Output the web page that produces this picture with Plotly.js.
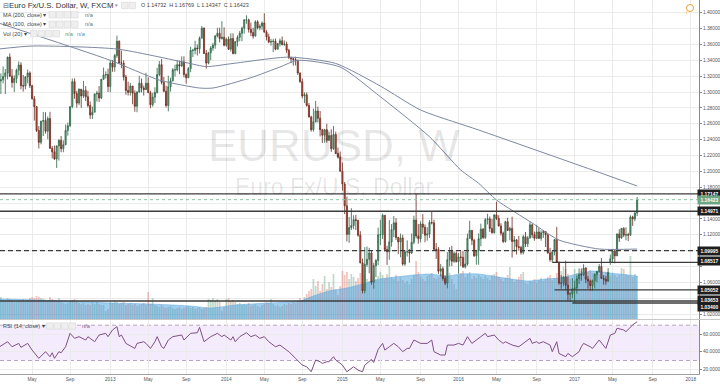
<!DOCTYPE html>
<html><head><meta charset="utf-8">
<script src="https://cdn.plot.ly/plotly-3.0.1.min.js"></script>
<style>html,body{margin:0;padding:0;background:#fff;}#chart{width:720px;height:384px;}</style>
</head><body><div id="chart"></div>
<script>
// ---------- DATA (weekly EUR/USD, FXCM) ----------
const dates = [
'2012-01-23','2012-01-30','2012-02-06','2012-02-13','2012-02-20','2012-02-27','2012-03-05','2012-03-12','2012-03-19','2012-03-26','2012-04-02','2012-04-09','2012-04-16','2012-04-23','2012-04-30','2012-05-07','2012-05-14','2012-05-21','2012-05-28','2012-06-04','2012-06-11','2012-06-18','2012-06-25','2012-07-02','2012-07-09','2012-07-16','2012-07-23','2012-07-30','2012-08-06','2012-08-13','2012-08-20','2012-08-27','2012-09-03','2012-09-10','2012-09-17','2012-09-24','2012-10-01','2012-10-08','2012-10-15','2012-10-22','2012-10-29','2012-11-05','2012-11-12','2012-11-19','2012-11-26','2012-12-03','2012-12-10','2012-12-17','2012-12-24','2012-12-31',
'2013-01-07','2013-01-14','2013-01-21','2013-01-28','2013-02-04','2013-02-11','2013-02-18','2013-02-25','2013-03-04','2013-03-11','2013-03-18','2013-03-25','2013-04-01','2013-04-08','2013-04-15','2013-04-22','2013-04-29','2013-05-06','2013-05-13','2013-05-20','2013-05-27','2013-06-03','2013-06-10','2013-06-17','2013-06-24','2013-07-01','2013-07-08','2013-07-15','2013-07-22','2013-07-29','2013-08-05','2013-08-12','2013-08-19','2013-08-26','2013-09-02','2013-09-09','2013-09-16','2013-09-23','2013-09-30','2013-10-07','2013-10-14','2013-10-21','2013-10-28','2013-11-04','2013-11-11','2013-11-18','2013-11-25','2013-12-02','2013-12-09','2013-12-16','2013-12-23','2013-12-30',
'2014-01-06','2014-01-13','2014-01-20','2014-01-27','2014-02-03','2014-02-10','2014-02-17','2014-02-24','2014-03-03','2014-03-10','2014-03-17','2014-03-24','2014-03-31','2014-04-07','2014-04-14','2014-04-21','2014-04-28','2014-05-05','2014-05-12','2014-05-19','2014-05-26','2014-06-02','2014-06-09','2014-06-16','2014-06-23','2014-06-30','2014-07-07','2014-07-14','2014-07-21','2014-07-28','2014-08-04','2014-08-11','2014-08-18','2014-08-25','2014-09-01','2014-09-08','2014-09-15','2014-09-22','2014-09-29','2014-10-06','2014-10-13','2014-10-20','2014-10-27','2014-11-03','2014-11-10','2014-11-17','2014-11-24','2014-12-01','2014-12-08','2014-12-15','2014-12-22','2014-12-29',
'2015-01-05','2015-01-12','2015-01-19','2015-01-26','2015-02-02','2015-02-09','2015-02-16','2015-02-23','2015-03-02','2015-03-09','2015-03-16','2015-03-23','2015-03-30','2015-04-06','2015-04-13','2015-04-20','2015-04-27','2015-05-04','2015-05-11','2015-05-18','2015-05-25','2015-06-01','2015-06-08','2015-06-15','2015-06-22','2015-06-29','2015-07-06','2015-07-13','2015-07-20','2015-07-27','2015-08-03','2015-08-10','2015-08-17','2015-08-24','2015-08-31','2015-09-07','2015-09-14','2015-09-21','2015-09-28','2015-10-05','2015-10-12','2015-10-19','2015-10-26','2015-11-02','2015-11-09','2015-11-16','2015-11-23','2015-11-30','2015-12-07','2015-12-14','2015-12-21','2015-12-28',
'2016-01-04','2016-01-11','2016-01-18','2016-01-25','2016-02-01','2016-02-08','2016-02-15','2016-02-22','2016-02-29','2016-03-07','2016-03-14','2016-03-21','2016-03-28','2016-04-04','2016-04-11','2016-04-18','2016-04-25','2016-05-02','2016-05-09','2016-05-16','2016-05-23','2016-05-30','2016-06-06','2016-06-13','2016-06-20','2016-06-27','2016-07-04','2016-07-11','2016-07-18','2016-07-25','2016-08-01','2016-08-08','2016-08-15','2016-08-22','2016-08-29','2016-09-05','2016-09-12','2016-09-19','2016-09-26','2016-10-03','2016-10-10','2016-10-17','2016-10-24','2016-10-31','2016-11-07','2016-11-14','2016-11-21','2016-11-28','2016-12-05','2016-12-12','2016-12-19','2016-12-26',
'2017-01-02','2017-01-09','2017-01-16','2017-01-23','2017-01-30','2017-02-06','2017-02-13','2017-02-20','2017-02-27','2017-03-06','2017-03-13','2017-03-20','2017-03-27','2017-04-03','2017-04-10','2017-04-17','2017-04-24','2017-05-01','2017-05-08','2017-05-15','2017-05-22','2017-05-29','2017-06-05','2017-06-12','2017-06-19','2017-06-26','2017-07-03','2017-07-10','2017-07-17'];

const open = [
1.2915,1.3140,1.3155,1.3195,1.3240,1.3440,1.3200,1.3120,1.3170,1.3275,1.3340,1.3080,1.3075,1.3190,1.3240,1.3080,1.2915,1.2815,1.2515,1.2365,1.2630,1.2640,1.2505,1.2665,1.2290,1.2245,1.2155,1.2320,1.2390,1.2285,1.2335,1.2515,1.2575,1.2815,1.3130,1.2980,1.2860,1.3035,1.2950,1.3020,1.2940,1.2830,1.2710,1.2745,1.2975,1.2985,1.2925,1.3160,1.3215,1.3220,
1.3070,1.3365,1.3315,1.3460,1.3640,1.3365,1.3365,1.3190,1.3020,1.2995,1.3075,1.2985,1.2820,1.3000,1.3110,1.3050,1.3030,1.3110,1.2990,1.2840,1.2935,1.2995,1.3220,1.3345,1.3120,1.3010,1.2830,1.3065,1.3140,1.3280,1.3280,1.3345,1.3330,1.3380,1.3220,1.3180,1.3295,1.3525,1.3525,1.3555,1.3545,1.3680,1.3805,1.3485,1.3365,1.3495,1.3555,1.3590,1.3705,1.3740,1.3675,1.3690,
1.3590,1.3665,1.3540,1.3675,1.3485,1.3635,1.3690,1.3740,1.3805,1.3910,1.3910,1.3790,1.3750,1.3705,1.3885,1.3810,1.3830,1.3870,1.3755,1.3695,1.3630,1.3635,1.3640,1.3540,1.3610,1.3645,1.3595,1.3605,1.3525,1.3430,1.3420,1.3410,1.3400,1.3240,1.3130,1.2950,1.2965,1.2830,1.2685,1.2525,1.2625,1.2760,1.2670,1.2525,1.2455,1.2525,1.2390,1.2450,1.2285,1.2465,1.2225,1.2180,
1.2000,1.1840,1.1565,1.1205,1.1290,1.1315,1.1390,1.1380,1.1195,1.0845,1.0495,1.0825,1.0890,1.0970,1.0600,1.0810,1.0875,1.1200,1.1200,1.1445,1.1015,1.0985,1.1110,1.1265,1.1350,1.1165,1.1110,1.1160,1.0830,1.0985,1.0985,1.0970,1.1105,1.1385,1.1185,1.1150,1.1335,1.1295,1.1195,1.1210,1.1355,1.1350,1.1015,1.1015,1.0740,1.0770,1.0650,1.0590,1.0885,1.0990,1.0865,1.0965,
1.0860,1.0920,1.0915,1.0795,1.0830,1.1155,1.1255,1.1130,1.0935,1.1000,1.1150,1.1270,1.1165,1.1390,1.1400,1.1280,1.1225,1.1450,1.1405,1.1310,1.1220,1.1115,1.1365,1.1255,1.1280,1.1115,1.1135,1.1050,1.1040,1.0975,1.1175,1.1085,1.1160,1.1325,1.1200,1.1155,1.1235,1.1155,1.1225,1.1240,1.1200,1.0970,1.0885,1.0985,1.1140,1.0855,1.0590,1.0590,1.0665,1.0565,1.0450,1.0455,
1.0520,1.0530,1.0645,1.0700,1.0695,1.0780,1.0640,1.0615,1.0560,1.0620,1.0700,1.0735,1.0800,1.0650,1.0640,1.0615,1.0855,1.0895,1.0995,1.0935,1.1210,1.1160,1.1280,1.1195,1.1200,1.1195,1.1425,1.1400,1.14732];

const high = [
1.3167,1.3235,1.3322,1.3290,1.3445,1.3486,1.3290,1.3210,1.3295,1.3385,1.3375,1.3215,1.3200,1.3283,1.3260,1.3090,1.2950,1.2825,1.2570,1.2640,1.2748,1.2745,1.2692,1.2750,1.2320,1.2325,1.2325,1.2405,1.2445,1.2390,1.2590,1.2615,1.2820,1.3170,1.3172,1.3015,1.3045,1.3015,1.3140,1.3075,1.3015,1.2880,1.2815,1.2980,1.3015,1.3075,1.3165,1.3308,1.3260,1.3295,
1.3405,1.3404,1.3480,1.3711,1.3650,1.3520,1.3400,1.3215,1.3130,1.3115,1.3075,1.3020,1.3010,1.3203,1.3170,1.3080,1.3243,1.3185,1.3015,1.2990,1.3060,1.3305,1.3390,1.3415,1.3190,1.3080,1.3206,1.3180,1.3300,1.3345,1.3400,1.3395,1.3450,1.3450,1.3235,1.3315,1.3570,1.3545,1.3645,1.3600,1.3700,1.3832,1.3815,1.3530,1.3505,1.3580,1.3620,1.3720,1.3810,1.3810,1.3893,1.3815,
1.3685,1.3700,1.3740,1.3740,1.3640,1.3715,1.3770,1.3825,1.3915,1.3967,1.3925,1.3875,1.3810,1.3905,1.3905,1.3855,1.3890,1.3993,1.3780,1.3735,1.3670,1.3670,1.3675,1.3615,1.3675,1.3700,1.3650,1.3635,1.3545,1.3445,1.3435,1.3445,1.3400,1.3245,1.3170,1.2995,1.2995,1.2860,1.2700,1.2790,1.2887,1.2815,1.2760,1.2535,1.2535,1.2600,1.2500,1.2530,1.2570,1.2500,1.2300,1.2250,
1.2110,1.1865,1.1680,1.1425,1.1535,1.1445,1.1450,1.1390,1.1245,1.0900,1.1043,1.1052,1.1035,1.1000,1.0845,1.0895,1.1290,1.1390,1.1467,1.1445,1.1060,1.1385,1.1335,1.1436,1.1410,1.1175,1.1215,1.1200,1.1000,1.1129,1.1020,1.1215,1.1440,1.1714,1.1335,1.1370,1.1460,1.1330,1.1295,1.1385,1.1495,1.1390,1.1095,1.1045,1.0830,1.0800,1.0685,1.0981,1.1042,1.1060,1.0990,1.0990,
1.0970,1.0990,1.0995,1.0985,1.1215,1.1376,1.1260,1.1150,1.1010,1.1218,1.1340,1.1285,1.1410,1.1464,1.1430,1.1400,1.1460,1.1616,1.1445,1.1345,1.1240,1.1375,1.1415,1.1300,1.1428,1.1185,1.1145,1.1185,1.1060,1.1200,1.1235,1.1185,1.1366,1.1340,1.1240,1.1325,1.1285,1.1255,1.1260,1.1245,1.1205,1.1035,1.0990,1.1145,1.1299,1.0855,1.0690,1.0675,1.0873,1.0670,1.0475,1.0653,
1.0620,1.0685,1.0775,1.0775,1.0829,1.0790,1.0680,1.0635,1.0635,1.0715,1.0745,1.0830,1.0906,1.0690,1.0680,1.0780,1.0950,1.1020,1.1020,1.1215,1.1268,1.1285,1.1296,1.1295,1.1225,1.1445,1.1440,1.1490,1.16769];

const low = [
1.2880,1.2975,1.3110,1.2975,1.3160,1.3190,1.3055,1.3000,1.3110,1.3210,1.3035,1.3005,1.3035,1.3110,1.3050,1.2905,1.2640,1.2495,1.2288,1.2340,1.2445,1.2475,1.2405,1.2285,1.2162,1.2145,1.2042,1.2135,1.2240,1.2240,1.2330,1.2450,1.2560,1.2795,1.2915,1.2802,1.2835,1.2800,1.2925,1.2885,1.2805,1.2660,1.2660,1.2745,1.2880,1.2875,1.2910,1.3155,1.3170,1.3000,
1.2998,1.3255,1.3255,1.3430,1.3360,1.3300,1.3145,1.2965,1.2955,1.2955,1.2845,1.2750,1.2745,1.2990,1.2995,1.2955,1.3025,1.2990,1.2795,1.2815,1.2860,1.2980,1.3200,1.3095,1.2995,1.2805,1.2755,1.3005,1.3135,1.3195,1.3260,1.3225,1.3315,1.3185,1.3105,1.3175,1.3250,1.3440,1.3475,1.3460,1.3485,1.3675,1.3480,1.3295,1.3350,1.3400,1.3520,1.3545,1.3690,1.3625,1.3660,1.3575,
1.3570,1.3530,1.3510,1.3475,1.3475,1.3575,1.3640,1.3640,1.3735,1.3860,1.3750,1.3705,1.3673,1.3700,1.3790,1.3780,1.3785,1.3750,1.3650,1.3615,1.3585,1.3503,1.3525,1.3535,1.3575,1.3590,1.3585,1.3490,1.3420,1.3365,1.3333,1.3335,1.3215,1.3115,1.2920,1.2860,1.2815,1.2680,1.2500,1.2500,1.2615,1.2615,1.2440,1.2357,1.2360,1.2360,1.2385,1.2245,1.2270,1.2220,1.2160,1.2000,
1.1755,1.1460,1.1115,1.1098,1.1260,1.1270,1.1260,1.1175,1.0840,1.0460,1.0460,1.0795,1.0713,1.0570,1.0520,1.0665,1.0815,1.1070,1.1145,1.0990,1.0819,1.0885,1.1050,1.1170,1.1135,1.0955,1.0915,1.0810,1.0808,1.0925,1.0847,1.0960,1.1080,1.1155,1.1087,1.1105,1.1210,1.1105,1.1125,1.1160,1.1330,1.1010,1.0895,1.0705,1.0675,1.0620,1.0565,1.0524,1.0800,1.0805,1.0845,1.0850,
1.0710,1.0805,1.0780,1.0775,1.0810,1.1150,1.1070,1.0920,1.0822,1.0822,1.1055,1.1145,1.1145,1.1330,1.1235,1.1215,1.1215,1.1385,1.1305,1.1190,1.1095,1.1100,1.1250,1.1130,1.0912,1.0985,1.0950,1.1000,1.0950,1.0952,1.1045,1.1045,1.1150,1.1160,1.1125,1.1145,1.1145,1.1125,1.1160,1.1045,1.0960,1.0860,1.0850,1.0940,1.0850,1.0570,1.0518,1.0550,1.0505,1.0366,1.0352,1.0400,
1.0340,1.0455,1.0580,1.0620,1.0680,1.0590,1.0520,1.0494,1.0495,1.0525,1.0600,1.0720,1.0645,1.0570,1.0570,1.0605,1.0820,1.0850,1.0840,1.0930,1.1110,1.1150,1.1170,1.1130,1.1120,1.1185,1.1312,1.1370,1.14347];

const close = [
1.3140,1.3155,1.3195,1.3240,1.3440,1.3200,1.3120,1.3170,1.3275,1.3340,1.3080,1.3075,1.3190,1.3240,1.3080,1.2915,1.2815,1.2515,1.2365,1.2630,1.2640,1.2505,1.2665,1.2290,1.2245,1.2155,1.2320,1.2390,1.2285,1.2335,1.2515,1.2575,1.2815,1.3130,1.2980,1.2860,1.3035,1.2950,1.3020,1.2940,1.2830,1.2710,1.2745,1.2975,1.2985,1.2925,1.3160,1.3215,1.3220,1.3070,
1.3365,1.3315,1.3460,1.3640,1.3365,1.3365,1.3190,1.3020,1.2995,1.3075,1.2985,1.2820,1.3000,1.3110,1.3050,1.3030,1.3110,1.2990,1.2840,1.2935,1.2995,1.3220,1.3345,1.3120,1.3010,1.2830,1.3065,1.3140,1.3280,1.3280,1.3345,1.3330,1.3380,1.3220,1.3180,1.3295,1.3525,1.3525,1.3555,1.3545,1.3680,1.3805,1.3485,1.3365,1.3495,1.3555,1.3590,1.3705,1.3740,1.3675,1.3690,1.3590,
1.3665,1.3540,1.3675,1.3485,1.3635,1.3690,1.3740,1.3805,1.3910,1.3910,1.3790,1.3750,1.3705,1.3885,1.3810,1.3830,1.3870,1.3755,1.3695,1.3630,1.3635,1.3640,1.3540,1.3610,1.3645,1.3595,1.3605,1.3525,1.3430,1.3420,1.3410,1.3400,1.3240,1.3130,1.2950,1.2965,1.2830,1.2685,1.2525,1.2625,1.2760,1.2670,1.2525,1.2455,1.2525,1.2390,1.2450,1.2285,1.2465,1.2225,1.2180,1.2000,
1.1840,1.1565,1.1205,1.1290,1.1315,1.1390,1.1380,1.1195,1.0845,1.0495,1.0825,1.0890,1.0970,1.0600,1.0810,1.0875,1.1200,1.1200,1.1445,1.1015,1.0985,1.1110,1.1265,1.1350,1.1165,1.1110,1.1160,1.0830,1.0985,1.0985,1.0970,1.1105,1.1385,1.1185,1.1150,1.1335,1.1295,1.1195,1.1210,1.1355,1.1350,1.1015,1.1015,1.0740,1.0770,1.0650,1.0590,1.0885,1.0990,1.0865,1.0965,1.0860,
1.0920,1.0915,1.0795,1.0830,1.1155,1.1255,1.1130,1.0935,1.1000,1.1150,1.1270,1.1165,1.1390,1.1400,1.1280,1.1225,1.1450,1.1405,1.1310,1.1220,1.1115,1.1365,1.1255,1.1280,1.1115,1.1135,1.1050,1.1040,1.0975,1.1175,1.1085,1.1160,1.1325,1.1200,1.1155,1.1235,1.1155,1.1225,1.1240,1.1200,1.0970,1.0885,1.0985,1.1140,1.0855,1.0590,1.0590,1.0665,1.0565,1.0450,1.0455,1.0520,
1.0530,1.0645,1.0700,1.0695,1.0780,1.0640,1.0615,1.0560,1.0620,1.0700,1.0735,1.0800,1.0650,1.0640,1.0615,1.0725,1.0895,1.0995,1.0935,1.1210,1.1160,1.1280,1.1195,1.1200,1.1195,1.1425,1.1400,1.1473,1.16423];

const volume = [
20,22,19,18,21,20,19,17,18,19,18,20,17,19,21,22,21,23,22,21,20,19,18,22,20,19,18,21,17,16,15,16,18,19,20,17,16,15,16,14,15,14,16,15,17,15,14,14,8,10,
17,16,18,17,15,16,17,14,15,16,14,15,13,14,15,16,14,27,15,21,14,13,12,14,12,11,12,13,11,10,11,12,10,11,12,13,11,12,10,11,12,10,11,12,20,19,21,18,20,17,8,12,
20,21,18,19,17,15,16,14,15,14,16,13,14,15,13,12,14,15,17,16,20,15,13,14,12,13,15,14,16,15,17,16,18,21,19,22,25,28,30,40,33,38,28,35,43,30,37,32,45,30,24,33,
48,44,47,40,45,42,38,41,46,50,44,40,38,42,45,40,43,47,44,41,45,53,42,40,44,38,42,39,36,38,35,40,44,58,47,42,40,38,43,44,46,41,40,42,45,48,43,41,46,40,35,30,
44,46,48,42,45,47,40,43,41,44,42,40,43,41,39,44,45,47,42,40,38,41,44,52,40,37,39,42,45,47,36,35,38,37,40,36,39,41,38,40,42,44,39,41,46,55,48,52,50,45,40,30,
50,46,44,48,45,43,47,49,46,44,48,45,42,44,47,45,43,46,44,42,44,51,50,45,44,63,42,45,43];

// Vol(20) moving average, read at selected weeks (index into dates)
const volMAIdx = [0,18,41,50,68,86,95,106,121,135,141,148,156,163,171,186,193,201,207,215,221,237,245,251,266,274,286];
const volMAVal = [20,19,17,16,15,13,11,14,16,18,23,28,31,35,40,44,45,43,45,45,43,38,40,41,48,46,43];

// MA(200) and MA(100), read at selected weeks
const ma200Idx = [0,15,53,84,93,105,130,151,171,189,215,266,286];
const ma200Val = [1.3542,1.358,1.3542,1.337,1.332,1.336,1.344,1.336,1.3075,1.2773,1.2521,1.2016,1.1815];
const ma100Idx = [0,50,72,90,96,113,126,134,153,171,193,207,215,223,239,251,269,286];
const ma100Val = [1.387,1.340,1.315,1.305,1.305,1.318,1.3315,1.340,1.3315,1.294,1.2436,1.2016,1.1849,1.1638,1.1348,1.1133,1.102,1.102];

// RSI(14), read at selected weeks
const rsiIdx = [0,4,6,9,10,13,15,18,21,23,24,25,27,28,30,32,34,36,39,40,43,45,48,49,51,53,54,55,57,61,62,65,66,68,70,71,73,74,76,78,82,83,86,89,90,92,95,98,100,101,104,105,106,108,111,113,115,117,119,121,124,126,129,130,133,136,138,140,142,144,145,147,148,150,151,154,156,159,161,163,164,166,167,168,169,170,172,173,175,177,179,181,183,184,186,189,192,194,195,198,200,201,204,206,208,210,211,212,216,218,219,222,224,226,227,230,233,235,238,239,241,242,244,247,248,250,251,254,255,257,258,260,261,262,265,266,269,272,274,276,277,280,281,283,284,286];
const rsiVal = [44.9,51.3,45.6,49.4,44.9,49.4,41.8,32.4,40,34.3,38.8,32.4,40,38.8,45.6,60.8,55.1,57,53.2,57,51.3,58.9,60.8,57,64.6,68.4,57,58.9,49.4,43.7,49.4,51.3,49.4,43.7,51.3,57,45.6,43.7,53.2,57,58.9,53.2,60.8,61.5,67.6,51.3,57,60.8,57,58.9,53.2,57,51.3,57,61.5,57,58.9,55.1,57,51.3,45.6,47.5,41.8,40,32.4,24.8,22.9,17.2,30.5,28.6,26.7,28.6,28.6,34.3,30.5,24.8,17.2,22.9,19.1,17.2,24.8,29.7,31.2,27.8,34.3,42.6,49.4,41.8,45.6,49.4,45.6,40,43.7,43.7,53.2,49.4,49.4,53.2,40,36.2,36.2,47.5,47.5,49.4,47.5,57,53.2,49.4,57,60.8,57,58.9,53.2,49.4,51.3,47.5,45.6,49.4,55.1,49.4,51.3,49.4,51.3,47.5,40,51.3,38,34.3,38,34.3,36.2,40,45.6,49.4,45.6,43.7,53.2,43.7,58.9,60.8,66.5,64.6,62.7,68.4,70.2,74];

// Horizontal levels (price, first week index or -1 for full width, dashed?)
const levelPrice = [1.17147,1.14971,1.09995,1.08517,1.05052,1.03653,1.03400];
const levelStart = [-1,-1,-1,248,249,-1,257];
const levelDash  = [false,false,true,false,false,false,false];
const levelLabelShift = [0,0,0,1,0,1,-4];
const lastPrice = 1.16423;

const priceTicks = [1.02,1.04,1.06,1.08,1.10,1.12,1.14,1.16,1.18,1.20,1.22,1.24,1.26,1.28,1.30,1.32,1.34,1.36,1.38,1.40];
const priceTickText = ['1.02000','','1.06000','','','1.12000','1.14000','','1.18000','1.20000','1.22000','1.24000','1.26000','1.28000','1.30000','1.32000','1.34000','1.36000','1.38000','1.40000'];
const rsiTicks = [20,40,60];
const rsiTickText = ['20.0000','40.0000','60.0000'];
const xTickVals = ['2012-05-07','2012-09-03','2013-01-07','2013-05-06','2013-09-02','2014-01-06','2014-05-05','2014-09-01','2015-01-05','2015-05-04','2015-09-07','2016-01-04','2016-05-02','2016-09-05','2017-01-02','2017-05-01','2017-09-04','2018-01-01'];
const xTickText = ['May','Sep','2013','May','Sep','2014','May','Sep','2015','May','Sep','2016','May','Sep','2017','May','Sep','2018'];

// ---------- CHART ----------
const W = 720, H = 384, PR = 699;
const px = x => x / W, py = y => 1 - y / H;
const FONT = 'Liberation Sans, Arial, sans-serif';

const volColors = close.map((c, i) => c >= open[i] ? 'rgba(107,165,131,0.42)' : 'rgba(215,84,66,0.34)');

const traces = [
  {type:'bar', x:dates, y:volume, xaxis:'x', yaxis:'y', marker:{color:volColors, line:{width:0}}, hoverinfo:'skip'},
  {type:'scatter', mode:'lines', x:volMAIdx.map(i => dates[i]), y:volMAVal, xaxis:'x', yaxis:'y',
   line:{color:'rgba(90,165,225,0.8)', width:0.6, shape:'spline', smoothing:0.6}, fill:'tozeroy', fillcolor:'rgba(70,158,222,0.5)', hoverinfo:'skip'},
  {type:'candlestick', x:dates, open:open, high:high, low:low, close:close, xaxis:'x', yaxis:'y3', whiskerwidth:0,
   increasing:{line:{color:'#2b6446', width:0.8}, fillcolor:'#6ba583'},
   decreasing:{line:{color:'#6a2820', width:0.8}, fillcolor:'#d75442'}, hoverinfo:'skip'},
  {type:'scatter', mode:'lines', x:ma200Idx.map(i => dates[i]), y:ma200Val, xaxis:'x', yaxis:'y3',
   line:{color:'#7c87a0', width:1, shape:'spline', smoothing:0.6}, hoverinfo:'skip'},
  {type:'scatter', mode:'lines', x:ma100Idx.map(i => dates[i]), y:ma100Val, xaxis:'x', yaxis:'y3',
   line:{color:'#7c87a0', width:1, shape:'spline', smoothing:0.6}, hoverinfo:'skip'},
  {type:'scatter', mode:'lines', x:rsiIdx.map(i => dates[i]), y:rsiVal, xaxis:'x', yaxis:'y2',
   line:{color:'#7f4f86', width:1}, hoverinfo:'skip'}
];

const shapes = [];
const annotations = [];

// RSI band
shapes.push({type:'rect', xref:'paper', yref:'y2', x0:0, x1:px(PR), y0:30, y1:70, fillcolor:'rgba(170,110,230,0.13)', line:{width:0}, layer:'below'});
[30,70].forEach(v => shapes.push({type:'line', xref:'paper', yref:'y2', x0:0, x1:px(PR), y0:v, y1:v, line:{color:'#b6a6c0', width:1, dash:'4px,3px'}, layer:'below'}));
// pane separator
shapes.push({type:'line', xref:'paper', yref:'paper', x0:0, x1:1, y0:py(319.5), y1:py(319.5), line:{color:'#c8c8c8', width:1}});

// levels
levelPrice.forEach((p, k) => {
  const s = {type:'line', yref:'y3', y0:p, y1:p, line:{color:'#3c3c3c', width:1.4, dash: levelDash[k] ? '5px,3px' : 'solid'}};
  if (levelStart[k] < 0) { s.xref = 'paper'; s.x0 = 0; s.x1 = px(PR); }
  else { s.xref = 'x'; s.x0 = dates[levelStart[k]]; s.x1 = '2018-01-27'; }
  shapes.push(s);
  annotations.push({xref:'paper', yref:'y3', x:px(697), y:p, xanchor:'left', yanchor:'middle', yshift:levelLabelShift[k],
    text:'<b>' + p.toFixed(5) + '</b>', showarrow:false, bgcolor:'#1e1e1e', width:22, height:7, borderpad:0.5,
    font:{family:FONT, size:4.9, color:'#ffffff'}});
});
// last price
shapes.push({type:'line', xref:'paper', yref:'y3', x0:0, x1:px(PR), y0:lastPrice, y1:lastPrice, line:{color:'#8cc3a0', width:1, dash:'dot'}});
annotations.push({xref:'paper', yref:'y3', x:px(697), y:lastPrice, xanchor:'left', yanchor:'middle',
  text:'<b>' + lastPrice.toFixed(5) + '</b>', showarrow:false, bgcolor:'#6ba583', width:22, height:7, borderpad:0.5,
  font:{family:FONT, size:4.9, color:'#ffffff'}});

// watermark
annotations.push({xref:'paper', yref:'paper', x:px(334), y:py(146), text:'EURUSD, W', showarrow:false,
  font:{family:FONT, size:44, color:'rgba(0,0,0,0.1)'}});
annotations.push({xref:'paper', yref:'paper', x:px(334), y:py(187), text:'Euro Fx/U.S. Dollar', showarrow:false,
  font:{family:FONT, size:23, color:'rgba(0,0,0,0.1)'}});

// legend lines
function txt(x, y, t, size, color) {
  annotations.push({xref:'paper', yref:'paper', x:px(x), y:py(y), xanchor:'left', yanchor:'middle', text:t, showarrow:false,
    font:{family:FONT, size:size, color:color}});
}
function boxes(x, y, n) {
  for (let i = 0; i < n; i++) {
    shapes.push({type:'rect', xref:'paper', yref:'paper', x0:px(x + i*7.5), x1:px(x + i*7.5 + 6.5), y0:py(y + 3.2), y1:py(y - 3.2),
      fillcolor:'#efefef', line:{color:'#d6d6d6', width:0.6}});
  }
}
txt(0.5, 5.5, '⊟', 7, '#555');
txt(7, 5.5, 'Euro Fx/U.S. Dollar, W, FXCM', 7.8, '#333');
txt(113, 5.5, '▾', 5, '#888');
boxes(121.5, 5.5, 2);
txt(139, 5.5, 'O 1.14732  H 1.16769  L 1.14347  C 1.16423', 5.4, '#444');
txt(1, 14.8, 'MA (200, close) ▾', 5.6, '#444'); boxes(49, 14.8, 4); txt(82.5, 14.8, 'n/a', 5.6, '#607080');
txt(1, 24.2, 'MA (100, close) ▾', 5.6, '#444'); boxes(49, 24.2, 4); txt(82.5, 24.2, 'n/a', 5.6, '#607080');
txt(1, 33.6, 'Vol (20) ▾', 5.6, '#444'); boxes(30.5, 33.6, 4); txt(63, 33.6, 'n/a', 5.6, '#4f9a6c'); txt(74.5, 33.6, 'n/a', 5.6, '#3d8fd0');
txt(1, 326, 'RSI (14, close) ▾', 5.6, '#444'); boxes(46.5, 326, 4); txt(80, 326, 'n/a', 5.6, '#8a5a8f');

// alert icon
shapes.push({type:'circle', xref:'paper', yref:'paper', x0:px(686.5), x1:px(693.5), y0:py(11.5), y1:py(4.5), line:{color:'#f0a030', width:1}, fillcolor:'#ffffff'});
annotations.push({xref:'paper', yref:'paper', x:px(690), y:py(8), text:'!', showarrow:false, font:{family:FONT, size:5.5, color:'#f0a030'}});

const layout = {
  width:W, height:H, margin:{l:0, r:0, t:0, b:0}, paper_bgcolor:'#ffffff', plot_bgcolor:'#ffffff',
  showlegend:false, font:{family:FONT, size:5, color:'#555'}, bargap:0.22, hovermode:false,
  xaxis:{domain:[0, px(PR)], anchor:'y2', type:'date', range:['2012-01-27 07:00','2018-01-27'],
    tickmode:'array', tickvals:xTickVals, ticktext:xTickText, showgrid:true, gridcolor:'#ebebeb', gridwidth:1,
    ticks:'', tickfont:{family:FONT, size:4.8, color:'#555'}, showline:true, linecolor:'#a0a0a0', linewidth:1,
    rangeslider:{visible:false}, zeroline:false, fixedrange:true},
  yaxis:{domain:[py(319), 1], range:[0, 319], visible:false, fixedrange:true, showgrid:false},
  yaxis3:{overlaying:'y', side:'right', anchor:'x', range:[1.01375, 1.41601], tickmode:'array', tickvals:priceTicks, ticktext:priceTickText,
    showgrid:true, gridcolor:'#ebebeb', ticks:'outside', ticklen:2, tickcolor:'#888',
    showline:true, linecolor:'#8a8a8a', linewidth:1, tickfont:{family:FONT, size:4.8, color:'#555'}, zeroline:false, fixedrange:true},
  yaxis2:{domain:[py(374), py(320)], anchor:'x', side:'right', range:[14.7, 75.9], tickmode:'array', tickvals:rsiTicks, ticktext:rsiTickText,
    showgrid:true, gridcolor:'#ebebeb', ticks:'outside', ticklen:2, tickcolor:'#888',
    showline:true, linecolor:'#8a8a8a', linewidth:1, tickfont:{family:FONT, size:4.8, color:'#555'}, zeroline:false, fixedrange:true},
  shapes:shapes, annotations:annotations
};

Plotly.newPlot('chart', traces, layout, {staticPlot:true, displayModeBar:false});
</script>
</body></html>
